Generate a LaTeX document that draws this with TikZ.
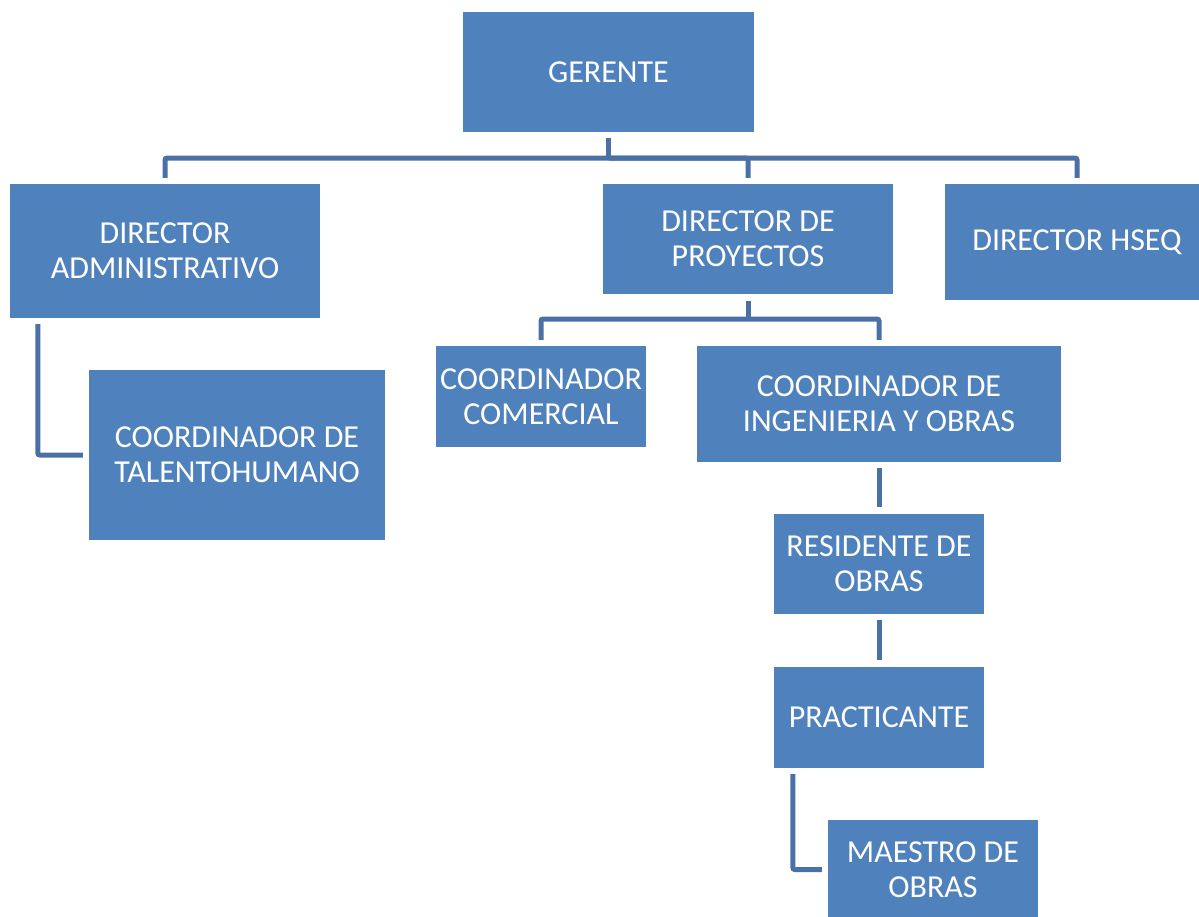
\documentclass[tikz,border=0pt]{standalone}
\usepackage{fontspec}
\setmainfont{Carlito}
\usetikzlibrary{calc}
\definecolor{boxblue}{HTML}{4F81BD}
\definecolor{linkblue}{HTML}{4A70A6}
\begin{document}
\begin{tikzpicture}[x=1pt,y=-1pt,
  unit/.style={draw=none,fill=boxblue,text=white,inner sep=0pt,align=center,
    font=\fontsize{32}{35}\selectfont},
  link/.style={draw=linkblue,line width=5pt,rounded corners=2pt}]
\useasboundingbox (0,0) rectangle (1199,916);

% boxes
\node[unit,minimum width=291pt,minimum height=120pt] (ger) at (608.5,72) {GERENTE};
\node[unit,minimum width=310pt,minimum height=134pt] (adm) at (165,251) {DIRECTOR\\ADMINISTRATIVO};
\node[unit,minimum width=290pt,minimum height=110pt] (pro) at (748,239) {DIRECTOR DE\\PROYECTOS};
\node[unit,minimum width=264pt,minimum height=116pt] (hseq) at (1077,242) {DIRECTOR HSEQ};
\node[unit,minimum width=210pt,minimum height=101pt] (com) at (541,396.5) {COORDINADOR\\COMERCIAL};
\node[unit,minimum width=364pt,minimum height=116pt] (ing) at (879,404) {COORDINADOR DE\\INGENIERIA Y OBRAS};
\node[unit,minimum width=296pt,minimum height=170pt] (tal) at (237,455) {COORDINADOR DE\\TALENTOHUMANO};
\node[unit,minimum width=210pt,minimum height=100pt] (res) at (879,564) {RESIDENTE DE\\OBRAS};
\node[unit,minimum width=210pt,minimum height=101pt] (pra) at (879,717.5) {PRACTICANTE};
\node[unit,minimum width=210pt,minimum height=99pt] (mae) at (933,869.5) {MAESTRO DE\\OBRAS};

% bus points
\coordinate (bus1) at (608.5,158);
\coordinate (bus2) at (748,319);

% connectors
\draw[link] ([yshift=-6pt]ger.south) -- (bus1);
\draw[link] ([yshift=6pt]adm.north) |- (bus1) -| ([yshift=6pt]hseq.north);
\draw[link] (bus1) -| ([yshift=6pt]pro.north);
\draw[link] ([yshift=-7pt]pro.south) -- (bus2);
\draw[link] ([yshift=6pt]com.north) |- (bus2) -| ([yshift=6pt]ing.north);
\draw[link] ([shift={(28pt,-6pt)}]adm.south west) |- ([xshift=-6pt]tal.west);
\draw[link] ([yshift=-6pt]ing.south) -- ([yshift=7pt]res.north);
\draw[link] ([yshift=-6pt]res.south) -- ([yshift=7pt]pra.north);
\draw[link] ([shift={(19pt,-6pt)}]pra.south west) |- ([xshift=-6pt]mae.west);
\end{tikzpicture}
\end{document}
